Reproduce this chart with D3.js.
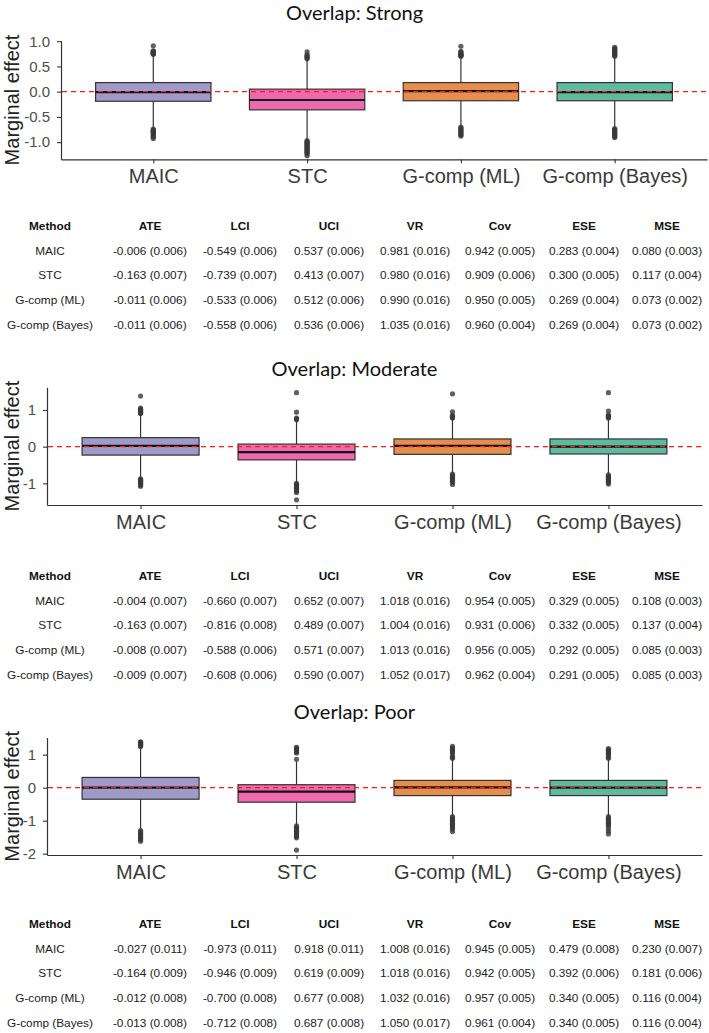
<!DOCTYPE html>
<html><head><meta charset="utf-8">
<script src="https://cdn.jsdelivr.net/npm/d3@7"></script>
<style>body{margin:0;background:#fff} svg{display:block}</style>
</head><body><svg id="c" width="709" height="1033"></svg>
<script>
const methods = ["MAIC", "STC", "G-comp (ML)", "G-comp (Bayes)"];
const fillColors = ["#7570b3", "#e7298a", "#d95f02", "#1b9e77"];

// [lower whisker, Q1, median, Q3, upper whisker]
const strongBoxes = [
  [-0.72, -0.19, -0.01, 0.18, 0.72],
  [-0.95, -0.36, -0.165, 0.05, 0.63],
  [-0.68, -0.18, 0.01, 0.18, 0.69],
  [-0.71, -0.18, -0.01, 0.18, 0.68]
];
const strongOutliers = [
  [0.74, 0.75, 0.76, 0.77, 0.78, 0.79, 0.80, 0.81, 0.91, -0.74, -0.76, -0.77, -0.79, -0.80, -0.82, -0.84, -0.86, -0.88, -0.90, -0.93],
  [0.65, 0.67, 0.69, 0.71, 0.73, 0.79, -0.97, -0.99, -1.01, -1.03, -1.05, -1.07, -1.09, -1.11, -1.13, -1.15, -1.17, -1.19, -1.21, -1.23, -1.27],
  [0.70, 0.71, 0.72, 0.73, 0.74, 0.76, 0.78, 0.80, 0.90, -0.70, -0.72, -0.74, -0.76, -0.78, -0.80, -0.82, -0.84, -0.86, -0.88],
  [0.70, 0.72, 0.74, 0.76, 0.78, 0.80, 0.82, 0.84, 0.86, 0.88, -0.73, -0.75, -0.77, -0.79, -0.81, -0.83, -0.85, -0.87, -0.89, -0.91]
];

const moderateBoxes = [
  [-0.86, -0.23, 0.02, 0.245, 0.88],
  [-0.97, -0.36, -0.15, 0.07, 0.70],
  [-0.72, -0.21, 0.02, 0.21, 0.75],
  [-0.74, -0.20, 0.00, 0.21, 0.76]
];
const moderateOutliers = [
  [0.90, 0.92, 0.94, 0.96, 0.98, 1.00, 1.02, 1.05, 1.38, -0.88, -0.90, -0.92, -0.94, -0.96, -0.98, -1.00, -1.02, -1.05, -1.08],
  [0.73, 0.76, 0.78, 0.94, 1.47, -1.00, -1.03, -1.06, -1.09, -1.12, -1.15, -1.18, -1.21, -1.25, -1.45],
  [0.78, 0.80, 0.82, 0.85, 0.95, 1.44, -0.75, -0.78, -0.81, -0.84, -0.87, -0.90, -0.93, -0.97, -1.03],
  [0.78, 0.80, 0.82, 0.84, 0.86, 0.97, 1.47, -0.77, -0.80, -0.83, -0.86, -0.89, -0.92, -0.95, -0.98, -1.02]
];

const poorBoxes = [
  [-1.28, -0.35, 0.00, 0.31, 1.22],
  [-1.14, -0.44, -0.12, 0.09, 0.80],
  [-0.86, -0.24, 0.01, 0.22, 0.87],
  [-0.86, -0.24, 0.00, 0.22, 0.87]
];
const poorOutliers = [
  [1.25, 1.27, 1.29, 1.31, 1.33, 1.35, 1.37, 1.39, -1.30, -1.34, -1.38, -1.42, -1.46, -1.50, -1.54, -1.58, -1.62],
  [0.86, 1.05, 1.08, 1.11, 1.14, 1.17, 1.20, 1.22, -1.16, -1.20, -1.24, -1.28, -1.32, -1.36, -1.40, -1.44, -1.48, -1.52, -1.89],
  [0.89, 0.92, 0.95, 1.05, 1.08, 1.12, 1.16, 1.20, 1.25, -0.88, -0.92, -0.96, -1.00, -1.04, -1.08, -1.12, -1.16, -1.20, -1.26, -1.33],
  [0.89, 0.92, 1.00, 1.03, 1.06, 1.09, 1.12, 1.15, 1.18, -0.88, -0.92, -0.96, -1.00, -1.04, -1.08, -1.12, -1.16, -1.24, -1.32, -1.40]
];

const strongTicks = [-1.0, -0.5, 0.0, 0.5, 1.0];
const moderateTicks = [-1, 0, 1];
const poorTicks = [-2, -1, 0, 1];

const tableHeaders = ["Method", "ATE", "LCI", "UCI", "VR", "Cov", "ESE", "MSE"];
const strongTable = [
  ["MAIC", "-0.006 (0.006)", "-0.549 (0.006)", "0.537 (0.006)", "0.981 (0.016)", "0.942 (0.005)", "0.283 (0.004)", "0.080 (0.003)"],
  ["STC", "-0.163 (0.007)", "-0.739 (0.007)", "0.413 (0.007)", "0.980 (0.016)", "0.909 (0.006)", "0.300 (0.005)", "0.117 (0.004)"],
  ["G-comp (ML)", "-0.011 (0.006)", "-0.533 (0.006)", "0.512 (0.006)", "0.990 (0.016)", "0.950 (0.005)", "0.269 (0.004)", "0.073 (0.002)"],
  ["G-comp (Bayes)", "-0.011 (0.006)", "-0.558 (0.006)", "0.536 (0.006)", "1.035 (0.016)", "0.960 (0.004)", "0.269 (0.004)", "0.073 (0.002)"]
];
const moderateTable = [
  ["MAIC", "-0.004 (0.007)", "-0.660 (0.007)", "0.652 (0.007)", "1.018 (0.016)", "0.954 (0.005)", "0.329 (0.005)", "0.108 (0.003)"],
  ["STC", "-0.163 (0.007)", "-0.816 (0.008)", "0.489 (0.007)", "1.004 (0.016)", "0.931 (0.006)", "0.332 (0.005)", "0.137 (0.004)"],
  ["G-comp (ML)", "-0.008 (0.007)", "-0.588 (0.006)", "0.571 (0.007)", "1.013 (0.016)", "0.956 (0.005)", "0.292 (0.005)", "0.085 (0.003)"],
  ["G-comp (Bayes)", "-0.009 (0.007)", "-0.608 (0.006)", "0.590 (0.007)", "1.052 (0.017)", "0.962 (0.004)", "0.291 (0.005)", "0.085 (0.003)"]
];
const poorTable = [
  ["MAIC", "-0.027 (0.011)", "-0.973 (0.011)", "0.918 (0.011)", "1.008 (0.016)", "0.945 (0.005)", "0.479 (0.008)", "0.230 (0.007)"],
  ["STC", "-0.164 (0.009)", "-0.946 (0.009)", "0.619 (0.009)", "1.018 (0.016)", "0.942 (0.005)", "0.392 (0.006)", "0.181 (0.006)"],
  ["G-comp (ML)", "-0.012 (0.008)", "-0.700 (0.008)", "0.677 (0.008)", "1.032 (0.016)", "0.957 (0.005)", "0.340 (0.005)", "0.116 (0.004)"],
  ["G-comp (Bayes)", "-0.013 (0.008)", "-0.712 (0.008)", "0.687 (0.008)", "1.050 (0.017)", "0.961 (0.004)", "0.340 (0.005)", "0.116 (0.004)"]
];

// ---- layout (positions only) ----
const columnX = [50, 150, 240, 329, 415, 500, 584, 667];
const panels = [
  { title: "Overlap: Strong", titleY: 13, left: 61, right: 707, top: 40.7, bottom: 159.3, yDomain: [-1.34, 1.01],
    ticks: strongTicks, fmt: d => d.toFixed(1), boxes: strongBoxes, outliers: strongOutliers, table: strongTable, tableY: 226 },
  { title: "Overlap: Moderate", titleY: 369, left: 47, right: 702, top: 387.2, bottom: 505, yDomain: [-1.59, 1.62],
    ticks: moderateTicks, fmt: d => String(d), boxes: moderateBoxes, outliers: moderateOutliers, table: moderateTable, tableY: 576 },
  { title: "Overlap: Poor", titleY: 712, left: 47, right: 702, top: 737.5, bottom: 855, yDomain: [-2.04, 1.52],
    ticks: poorTicks, fmt: d => String(d), boxes: poorBoxes, outliers: poorOutliers, table: poorTable, tableY: 924 }
];
const rowStep = 24.6;

const svg = d3.select("#c");
const FONT = "'Liberation Sans', Arial, sans-serif";

panels.forEach(p => {
  const g = svg.append("g");
  const x = d3.scalePoint().domain(methods).range([p.left, p.right]).padding(0.6);
  const y = d3.scaleLinear().domain(p.yDomain).range([p.bottom, p.top]);
  const bw = x.step() * 0.75;

  // title
  g.append("text").attr("x", 354.5).attr("y", p.titleY).attr("dy", "0.35em")
    .attr("text-anchor", "middle").attr("font-family", "Lato, 'Noto Sans', sans-serif")
    .attr("font-size", 20).attr("fill", "#111").text(p.title);

  // y axis title
  const ymid = (p.top + p.bottom) / 2;
  g.append("text").attr("transform", `translate(19,${ymid}) rotate(-90)`)
    .attr("text-anchor", "middle").attr("font-family", FONT).attr("font-size", 20)
    .attr("fill", "#222").text("Marginal effect");

  // axes
  const ya = g.append("g").attr("transform", `translate(${p.left},0)`)
    .call(d3.axisLeft(y).tickValues(p.ticks).tickFormat(p.fmt).tickSize(4).tickSizeOuter(0).tickPadding(7));
  const xa = g.append("g").attr("transform", `translate(0,${p.bottom})`)
    .call(d3.axisBottom(x).tickSize(4).tickSizeOuter(0).tickPadding(6));
  [ya, xa].forEach(a => {
    a.select(".domain").attr("stroke", "#333").attr("stroke-width", 1.2);
    a.selectAll(".tick line").attr("stroke", "#333").attr("stroke-width", 1.1);
  });
  ya.selectAll(".tick text").attr("font-family", FONT).attr("font-size", 15).attr("fill", "#4d4d4d");
  xa.selectAll(".tick text").attr("font-family", FONT).attr("font-size", 20).attr("fill", "#3a3a3a");

  // boxes
  methods.forEach((m, i) => {
    const [lo, q1, med, q3, hi] = p.boxes[i];
    const cx = x(m);
    const bg = g.append("g");
    bg.append("line").attr("x1", cx).attr("x2", cx).attr("y1", y(hi)).attr("y2", y(q3))
      .attr("stroke", "#333").attr("stroke-width", 1.2);
    bg.append("line").attr("x1", cx).attr("x2", cx).attr("y1", y(q1)).attr("y2", y(lo))
      .attr("stroke", "#333").attr("stroke-width", 1.2);
    bg.append("rect").attr("x", cx - bw / 2).attr("width", bw)
      .attr("y", y(q3)).attr("height", y(q1) - y(q3))
      .attr("fill", fillColors[i]).attr("fill-opacity", 0.7)
      .attr("stroke", "#333").attr("stroke-width", 1.2);
    bg.append("line").attr("x1", cx - bw / 2).attr("x2", cx + bw / 2).attr("y1", y(med)).attr("y2", y(med))
      .attr("stroke", "#111").attr("stroke-width", 2.2);
    bg.selectAll("circle").data(p.outliers[i]).join("circle")
      .attr("cx", cx).attr("cy", d => y(d)).attr("r", 2.6)
      .attr("fill", "#3a3a3a").attr("fill-opacity", 0.8);
  });

  // reference line at 0
  g.append("line").attr("x1", p.left + 1).attr("x2", p.right).attr("y1", y(0)).attr("y2", y(0))
    .attr("stroke", "#ff1a1a").attr("stroke-width", 1.4).attr("stroke-dasharray", "5,4");

  // table
  const tg = g.append("g").attr("font-family", FONT).attr("font-size", 11.8).attr("text-anchor", "middle");
  tableHeaders.forEach((h, j) => {
    tg.append("text").attr("x", columnX[j]).attr("y", p.tableY).attr("dy", "0.35em")
      .attr("font-weight", "bold").attr("fill", "#111").text(h);
  });
  p.table.forEach((row, r) => {
    row.forEach((cell, j) => {
      tg.append("text").attr("x", columnX[j]).attr("y", p.tableY + (r + 1) * rowStep).attr("dy", "0.35em")
        .attr("fill", "#222").text(cell);
    });
  });
});
</script>
</body></html>
